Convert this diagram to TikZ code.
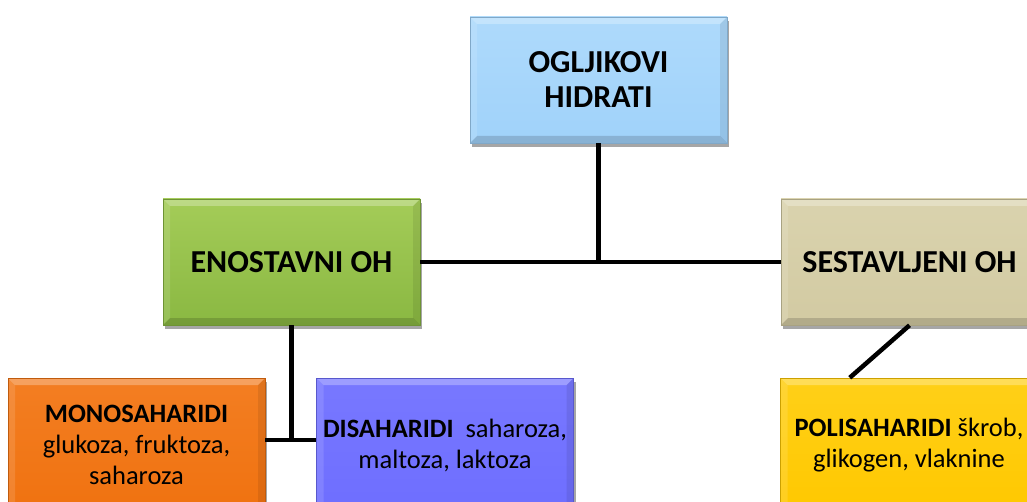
\documentclass[tikz,border=0pt]{standalone}
\usepackage{fontspec}
\setmainfont{Carlito}
\usetikzlibrary{shadows,calc}
\newcommand{\bevelpic}{%
  \coordinate (bNW) at (path picture bounding box.north west);
  \coordinate (bNE) at (path picture bounding box.north east);
  \coordinate (bSW) at (path picture bounding box.south west);
  \coordinate (bSE) at (path picture bounding box.south east);
  \coordinate (iNW) at ([xshift=7pt,yshift=-7pt]bNW);
  \coordinate (iNE) at ([xshift=-7pt,yshift=-7pt]bNE);
  \coordinate (iSW) at ([xshift=7pt,yshift=7pt]bSW);
  \coordinate (iSE) at ([xshift=-7pt,yshift=7pt]bSE);
  \fill[white,opacity=0.28] (bNW) -- (bNE) -- (iNE) -- (iNW) -- cycle;
  \fill[white,opacity=0.12] (bNW) -- (iNW) -- (iSW) -- (bSW) -- cycle;
  \fill[black,opacity=0.08] (bNE) -- (iNE) -- (iSE) -- (bSE) -- cycle;
  \fill[black,opacity=0.15] (bSW) -- (iSW) -- (iSE) -- (bSE) -- cycle;
}
\tikzset{
  box/.style={rectangle, minimum width=257pt, minimum height=126pt, inner sep=2pt,
    align=center, text=black, draw=#1!80!black, line width=0.6pt,
    path picture={\bevelpic},
    drop shadow={shadow xshift=2pt, shadow yshift=-4pt, opacity=0.35, fill=black}},
  lowbox/.style={minimum height=134pt},
  big/.style={font=\fontsize{32}{35}\selectfont\bfseries},
  small/.style={font=\fontsize{26.5}{31}\selectfont},
  link/.style={line width=4.5pt, black}
}
\definecolor{cblue}{RGB}{160,210,250}
\definecolor{cbluet}{RGB}{174,218,251}
\definecolor{cgreen}{RGB}{138,184,66}
\definecolor{cgreent}{RGB}{164,204,88}
\definecolor{ctan}{RGB}{210,202,162}
\definecolor{ctant}{RGB}{218,211,174}
\definecolor{corange}{RGB}{240,114,16}
\definecolor{coranget}{RGB}{243,126,34}
\definecolor{cpurple}{RGB}{110,110,255}
\definecolor{cpurplet}{RGB}{120,120,255}
\definecolor{cyellow}{RGB}{255,200,0}
\definecolor{cyellowt}{RGB}{255,208,24}
\begin{document}
\begin{tikzpicture}[x=1pt,y=-1pt]
\useasboundingbox (0,0) rectangle (1027,502);
\clip (0,0) rectangle (1027,502);
\node[box=cblue, top color=cbluet, bottom color=cblue, big] (top) at (598.5,80) {OGLJIKOVI\\HIDRATI};
\node[box=cgreen, top color=cgreent, bottom color=cgreen, big] (eno) at (291.5,262) {ENOSTAVNI OH};
\node[box=ctan, top color=ctant, bottom color=ctan, big] (ses) at (909.5,262) {SESTAVLJENI OH};
\node[box=corange, lowbox, top color=coranget, bottom color=corange, small] (mono) at (136.5,445) {\textbf{MONOSAHARIDI}\\glukoza, fruktoza,\\saharoza};
\node[box=cpurple, lowbox, top color=cpurplet, bottom color=cpurple, small] (dis) at (445,445) {\textbf{DISAHARIDI}\ \ saharoza,\\maltoza, laktoza};
\node[box=cyellow, lowbox, top color=cyellowt, bottom color=cyellow, small] (poli) at (909,445) {\textbf{POLISAHARIDI} škrob,\\glikogen, vlaknine};
\coordinate (pj) at ($(poli.north west)!0.27!(poli.north east)$);
\coordinate (mj) at (0,440);
\draw[link] (eno.east) -- (ses.west);
\draw[link] (top.south) -- (top.south |- eno.east);
\draw[link] (mono.east |- mj) -- (dis.west |- mj);
\draw[link] (eno.south) -- (eno.south |- mj);
\draw[link] (ses.south) -- (pj);
\end{tikzpicture}
\end{document}
